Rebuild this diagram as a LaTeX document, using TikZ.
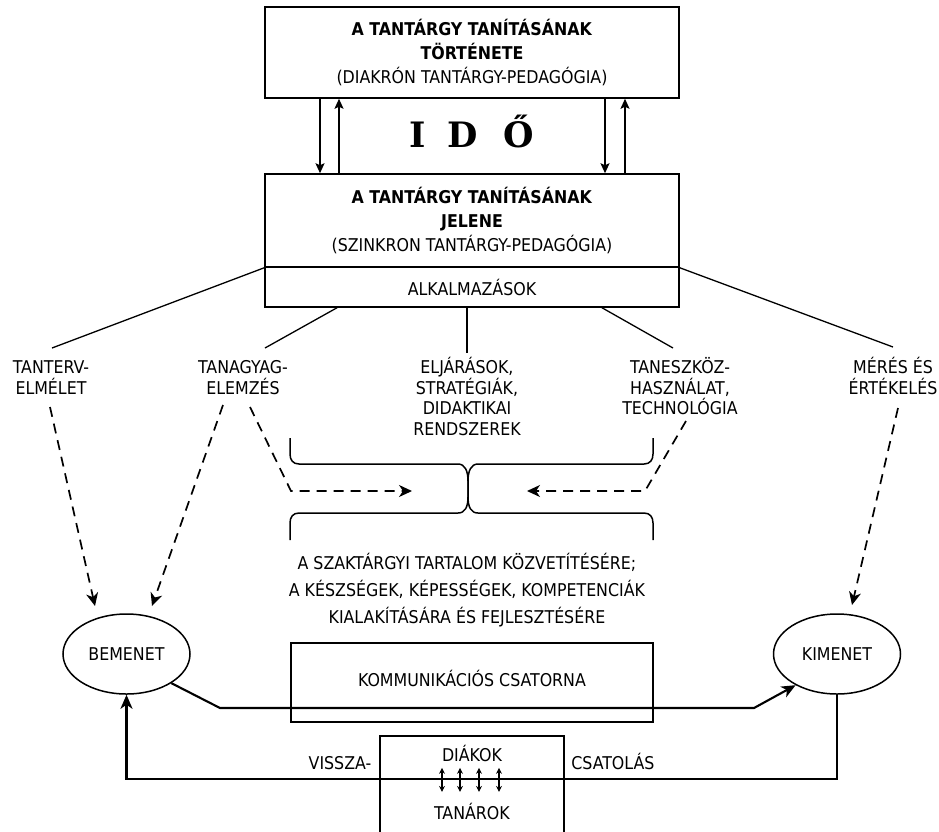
\documentclass[tikz,border=0pt]{standalone}
\usepackage{fontspec}
\setmainfont{DejaVu Sans Condensed}
\newfontfamily\idofont{DejaVu Serif}
\usetikzlibrary{arrows.meta,shapes.geometric}
\begin{document}
\begin{tikzpicture}[x=1pt,y=-1pt,
  every node/.style={inner sep=0pt, font=\fontsize{17.6}{20.7}\selectfont},
  bigbox/.style={draw, line width=1.5pt, minimum width=414pt, align=center,
    font=\fontsize{17.6}{23.8}\selectfont},
  lbl/.style={align=center, anchor=base},
  conn/.style={line width=1.3pt},
  dasharr/.style={line width=1.7pt, dash pattern=on 10pt off 7pt,
    -{Stealth[length=13pt,width=12pt,inset=4pt]}},
  tarr/.style={line width=1.6pt, -{Stealth[length=10pt,width=9pt,inset=2pt]}},
  flow/.style={line width=2.1pt},
  brace/.style={line width=1.5pt},
  dbl/.style={line width=1.7pt, {Stealth[length=6pt,width=6pt]}-{Stealth[length=6pt,width=6pt]}},
  oval/.style={draw, ellipse, line width=1.5pt, minimum width=127pt, minimum height=80pt}
]
\useasboundingbox (0,0) rectangle (939,831);

% top boxes
\node[bigbox, minimum height=91pt] (hist) at (472,52.5)
  {\textbf{A TANTÁRGY TANÍTÁSÁNAK}\\\textbf{TÖRTÉNETE}\\(DIAKRÓN TANTÁRGY-PEDAGÓGIA)};
\node[bigbox, minimum height=93pt] (jel) at (472,220.5)
  {\textbf{A TANTÁRGY TANÍTÁSÁNAK}\\\textbf{JELENE}\\(SZINKRON TANTÁRGY-PEDAGÓGIA)};
\node[bigbox, minimum height=40pt] (alk) at (472,287) {ALKALMAZÁSOK};

% IDŐ
\node[anchor=base, font=\idofont\bfseries\fontsize{35}{40}\selectfont] (ido) at (472,147)
  {I\hspace{21pt}D\hspace{26pt}Ő};

% vertical arrows between boxes
\coordinate (a1) at (320,0);
\coordinate (a2) at (339,0);
\coordinate (a3) at (605,0);
\coordinate (a4) at (625,0);
\draw[tarr] (hist.south -| a1) -- (jel.north -| a1);
\draw[tarr] (jel.north -| a2) -- (hist.south -| a2);
\draw[tarr] (hist.south -| a3) -- (jel.north -| a3);
\draw[tarr] (jel.north -| a4) -- (hist.south -| a4);

% labels (base = baseline of last line)
\node[lbl] (tanterv) at (51,394) {TANTERV-\\ELMÉLET};
\node[lbl] (tanagy) at (243,394) {TANAGYAG-\\ELEMZÉS};
\node[lbl] (eljar) at (467,435.4) {ELJÁRÁSOK,\\STRATÉGIÁK,\\DIDAKTIKAI\\RENDSZEREK};
\node[lbl] (tanesz) at (680,414.7) {TANESZKÖZ-\\HASZNÁLAT,\\TECHNOLÓGIA};
\node[lbl] (meres) at (893,394) {MÉRÉS ÉS\\ÉRTÉKELÉS};

% connectors from boxes to labels
\coordinate (e1) at (52,348);
\coordinate (e2) at (265,348);
\coordinate (e3) at (467,353);
\coordinate (e4) at (673,348);
\coordinate (e5) at (893,347);
\draw[conn] (jel.south west) -- (e1);
\draw[conn] ([xshift=-135pt]alk.south) -- (e2);
\draw[conn] (alk.south -| e3) -- (e3);
\draw[conn] ([xshift=130pt]alk.south) -- (e4);
\draw[conn] (jel.south east) -- (e5);

% braces
\draw[brace] (290,438) -- (290,454) .. controls (290,460) and (293,464) .. (299,464)
  -- (458,464) .. controls (465,464) and (468,471) .. (468,481) -- (468,497)
  .. controls (468,507) and (465,513) .. (458,513) -- (299,513)
  .. controls (293,513) and (290,517) .. (290,523) -- (290,540);
\draw[brace] (653,438) -- (653,454) .. controls (653,460) and (650,464) .. (644,464)
  -- (478,464) .. controls (471,464) and (468,471) .. (468,481) -- (468,497)
  .. controls (468,507) and (471,513) .. (478,513) -- (644,513)
  .. controls (650,513) and (653,517) .. (653,523) -- (653,540);

% ellipses
\node[oval] (bem) at (126.5,654) {BEMENET};
\node[oval] (kim) at (837,654) {KIMENET};

% dashed arrows
\coordinate (d1s) at (50,407);   \coordinate (d1e) at (95,606);
\coordinate (d2s) at (223,405);  \coordinate (d2e) at (152,606);
\coordinate (d3s) at (250,407);  \coordinate (d3e) at (412,491);
\coordinate (d4s) at (686,421);  \coordinate (d4e) at (527,491);
\coordinate (d5s) at (898,408);  \coordinate (d5e) at (852,605);
\draw[dasharr] (d1s) -- (d1e);
\draw[dasharr] (d2s) -- (d2e);
\draw[dasharr] (d3s) -- (291,491) -- (d3e);
\draw[dasharr] (d4s) -- (645,491) -- (d4e);
\draw[dasharr] (d5s) -- (d5e);

% main text
\node[lbl, font=\fontsize{17.6}{27}\selectfont] (main) at (467,623.4)
  {A SZAKTÁRGYI TARTALOM KÖZVETÍTÉSÉRE;\\A KÉSZSÉGEK, KÉPESSÉGEK, KOMPETENCIÁK\\KIALAKÍTÁSÁRA ÉS FEJLESZTÉSÉRE};

% communication channel
\node[draw, line width=1.5pt, minimum width=362pt, minimum height=79pt] (komm) at (472,682.5) {};
\node[anchor=base] (kommt) at (472,686.4) {KOMMUNIKÁCIÓS CSATORNA};

% lower box
\node[draw, line width=1.5pt, minimum width=184pt, minimum height=130pt, anchor=north] (dt) at (472,735) {};
\node[anchor=base] (diak) at (472,761.4) {DIÁKOK};
\node[anchor=base] (tanar) at (472,819.4) {TANÁROK};
\foreach \dx in {-30,-12,7,27}
  \draw[dbl] ([xshift=\dx pt, yshift=-6pt]diak.south) -- ([xshift=\dx pt, yshift=11pt]tanar.north);

\node[anchor=base] (vissza) at (340,769.4) {VISSZA-};
\node[anchor=base] (csat) at (613,769.4) {CSATOLÁS};

% flow lines
\coordinate (f1) at (220,708);
\coordinate (f2) at (754,708);
\coordinate (fb) at (0,779);
\draw[flow, -{Stealth[length=14pt,width=12pt,inset=4pt]}] (bem.-33) -- (f1) -- (f2) -- (kim.217);
\draw[flow, -{Stealth[length=14pt,width=12pt,inset=4pt]}] (kim.south) -- (kim.south |- fb) -- (bem.south |- fb) -- (bem.south);
\end{tikzpicture}
\end{document}
